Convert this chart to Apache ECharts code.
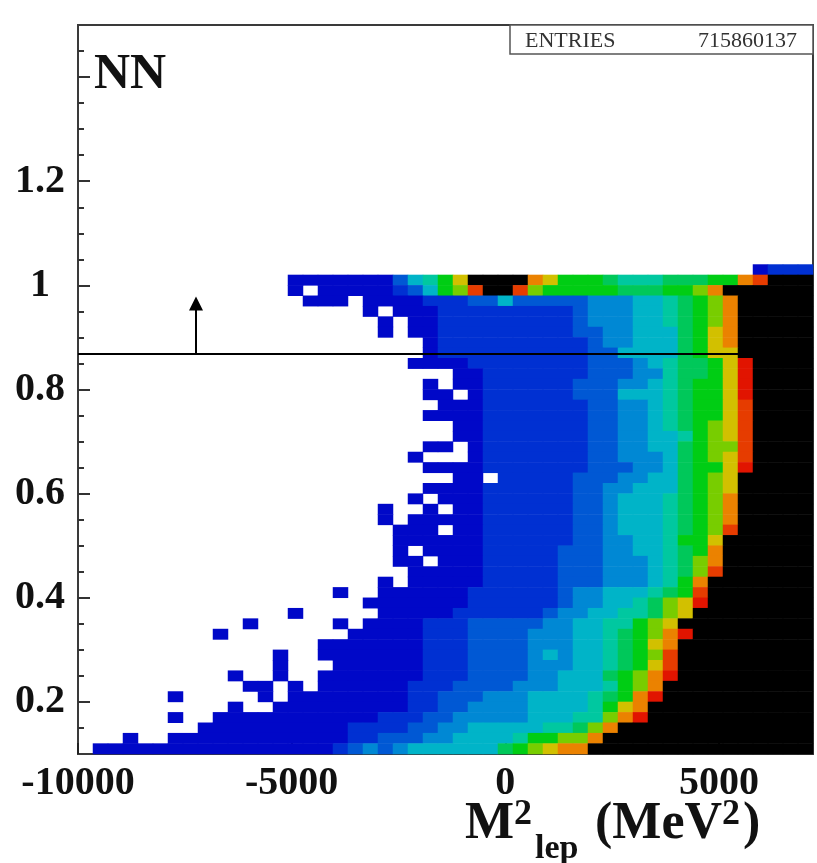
<!DOCTYPE html>
<html>
<head>
<meta charset="utf-8">
<style>html,body{margin:0;padding:0;background:#fff}#c{width:817px;height:863px}</style>
<script src="https://cdn.jsdelivr.net/npm/echarts@6/dist/echarts.min.js"></script>
</head>
<body>
<div id="c"></div>
<script>
// Histogram cells, top row first (NN bin 46 down to 0).
// '.' empty, 0-9,a,b,c colour level, # overflow (black). Groups of 7 bins.
const levelRows = [
"....... ....... ....... ....... ....... ....... ...0111",
"....... ....... 0000000 24579## ##a9777 6555666 77ab###",
"....... ....... 0.00000 12478b# #b87777 7666778 a######",
"....... ....... .000.00 0011122 4222223 3344567 8a#####",
"....... ....... .....0. 0001111 1111123 3344567 8a#####",
"....... ....... ......0 .001111 1111123 3344567 8a#####",
"....... ....... ......0 .001111 1111122 3344467 9a#####",
"....... ....... ....... ..01111 1111112 3344467 9a#####",
"....... ....... ....... ..01111 1111112 2444467 99#####",
"....... ....... ....... .000011 1111112 2234566 79c####",
"....... ....... ....... ....001 1111112 2233566 79c####",
"....... ....... ....... ..0.001 1111122 2334567 79c####",
"....... ....... ....... ..00.01 1111122 2444567 79c####",
"....... ....... ....... ...0001 1111112 2334567 79b####",
"....... ....... ....... ..00001 1111112 2334567 79b####",
"....... ....... ....... ....001 1111112 2334567 89b####",
"....... ....... ....... ....001 1111112 2334457 89b####",
"....... ....... ....... ..00.01 1111112 2334467 88b####",
"....... ....... ....... .0...01 1111112 2333467 89b####",
"....... ....... ....... ..00001 1111112 2233467 79c####",
"....... ....... ....... ....00. 1111122 2334467 89#####",
"....... ....... ....... ..00001 1111122 3344467 89#####",
"....... ....... ....... .0.0001 1111122 3444567 8a#####",
"....... ....... ......0 ..0.001 1111122 3444567 8a#####",
"....... ....... ......0 .000001 1111122 3444567 8a#####",
"....... ....... ....... 000.001 1111122 3444567 8b#####",
"....... ....... ....... 0000001 1111122 3344577 9######",
"....... ....... ....... 0.00001 1111222 3344567 a######",
"....... ....... ....... 00.0001 1111222 3334568 a######",
"....... ....... ....... .000001 1111222 3334568 b######",
"....... ....... ......0 .000001 1111222 333457a #######",
"....... ....... ...0..0 0000011 1111233 444567b #######",
"....... ....... .....00 0000011 1111233 445689c #######",
"....... ....... 0.....0 0000111 1112334 455689# #######",
"....... ....0.. ...0.00 0011122 2223344 55789## #######",
"....... ..0.... ....000 0011122 2233344 5678ac# #######",
"....... ....... ..00000 0011122 2233344 5679a## #######",
"....... ......0 ..00000 0011122 2234344 5678b## #######",
"....... ......0 ...0000 0011122 2233344 5679b## #######",
"....... ...0..0 ..00000 0011122 2233444 678ac## #######",
"....... ....00. 0.00000 0111222 2333444 578a### #######",
"......0 .....0. 0000000 0112223 3344445 67ac### #######",
"....... ...0..0 0000000 0112233 3344445 79a#### #######",
"......0 ..00000 0000001 1122333 3344455 8ac#### #######",
"....... .000000 0000111 1223344 4445568 a###### #######",
"...0..0 0000000 0000112 2233444 457788a ####### #######",
".000000 0000000 0001232 3444444 6789aa# ####### #######"
];
const levelColors = ['#0008c8','#0030d2','#0058d4','#0088d4','#00b4c8','#00c8a0','#00c85a','#00cd14','#78cd00','#d2c000','#eb8200','#e63c00','#e11400','#000000'];
const overflowLevel = 13;
const xBinCount = 49, yBinCount = 70;
const xRange = [-10000, 7200], yRange = [0.1, 1.5];
const xTicks = [-10000, -5000, 0, 5000];
const yMajorTicks = [0.2, 0.4, 0.6, 0.8, 1, 1.2, 1.4];
const yLabels = [0.2, 0.4, 0.6, 0.8, 1, 1.2];
const yMinorTicks = [0.15, 0.25, 0.3, 0.35, 0.45, 0.5, 0.55, 0.65, 0.7, 0.75, 0.85, 0.9, 0.95, 1.05, 1.1, 1.15, 1.25, 1.3, 1.35, 1.45];
const cutLine = [[-10000, 0.868], [5445, 0.868]];
const arrowX = -7239, arrowFrom = 0.868, arrowTip = 0.965;
const entries = '715860137';

const cells = [];
levelRows.forEach((s, i) => {
  const row = levelRows.length - 1 - i;
  s.replace(/ /g, '').split('').forEach((ch, col) => {
    if (ch !== '.') cells.push([col, row, ch === '#' ? overflowLevel : parseInt(ch, 16)]);
  });
});
const xBins = Array.from({length: xBinCount}, (_, i) => String(i));
const yBins = Array.from({length: yBinCount}, (_, i) => String(i));

const serif = '"Liberation Serif","Times New Roman",serif';
const axisStroke = {color: '#3a3a3a', width: 2};
function txt(text, x, y, size, weight, fill, align) {
  return {type: 'text', x: x, y: y, z: 20, silent: true,
    style: {text: text, font: (weight || 'bold') + ' ' + size + 'px ' + serif, fill: fill || '#111', align: align || 'left', verticalAlign: 'bottom'}};
}

const chart = echarts.init(document.getElementById('c'), null, {renderer: 'canvas'});
chart.setOption({
  animation: false,
  backgroundColor: '#fff',
  grid: {left: 78, top: 25, width: 735, height: 729, show: true, borderColor: '#3a3a3a', borderWidth: 2, backgroundColor: 'transparent'},
  xAxis: [
    {type: 'category', data: xBins, show: false},
    {type: 'value', min: xRange[0], max: xRange[1], position: 'bottom', splitLine: {show: false},
      axisLine: {lineStyle: axisStroke},
      axisTick: {show: true, inside: true, length: 11, lineStyle: {color: '#222', width: 2}, customValues: xTicks},
      axisLabel: {customValues: xTicks, formatter: v => String(v), margin: 10, hideOverlap: false, showMinLabel: true, showMaxLabel: true, color: '#111', fontFamily: serif, fontWeight: 'bold', fontSize: 40}}
  ],
  yAxis: [
    {type: 'category', data: yBins, show: false},
    {type: 'value', min: yRange[0], max: yRange[1], position: 'left', splitLine: {show: false},
      axisLine: {lineStyle: axisStroke},
      axisTick: {show: true, inside: true, length: 12, lineStyle: {color: '#333', width: 2}, customValues: yMajorTicks},
      axisLabel: {customValues: yLabels, align: 'center', margin: 38, color: '#111', fontFamily: serif, fontWeight: 'bold', fontSize: 40}},
    {type: 'value', min: yRange[0], max: yRange[1], position: 'left', splitLine: {show: false},
      axisLine: {show: false},
      axisTick: {show: true, inside: true, length: 6, lineStyle: {color: '#333', width: 2}, customValues: yMinorTicks},
      axisLabel: {show: false}}
  ],
  visualMap: {show: false, type: 'continuous', min: 0, max: overflowLevel, dimension: 2, seriesIndex: 0, inRange: {color: levelColors}},
  series: [
    {type: 'heatmap', xAxisIndex: 0, yAxisIndex: 0, data: cells, silent: true, progressive: 0, z: 1, emphasis: {disabled: true}},
    {type: 'line', xAxisIndex: 1, yAxisIndex: 1, data: cutLine, symbol: 'none', silent: true, z: 5, lineStyle: {color: '#000', width: 2}},
    {type: 'line', xAxisIndex: 1, yAxisIndex: 1, silent: true, z: 5, lineStyle: {color: '#000', width: 2},
      data: [{value: [arrowX, arrowFrom], symbol: 'none'}, {value: [arrowX, arrowTip], symbol: 'triangle', symbolSize: [14, 14], itemStyle: {color: '#000'}}]}
  ],
  graphic: [
    {type: 'rect', z: 10, silent: true, shape: {x: 510, y: 25, width: 303, height: 29}, style: {fill: '#fff', stroke: '#555', lineWidth: 1.5}},
    txt('ENTRIES', 525, 52, 22, 'normal', '#333'),
    txt(entries, 797, 52, 22, 'normal', '#333', 'right'),
    txt('NN', 94, 100, 50),
    txt('M', 465, 851, 52),
    txt('2', 514, 833, 36),
    txt('lep', 535, 866, 34),
    txt('(MeV', 595, 851, 52),
    txt('2', 722, 833, 36),
    txt(')', 743, 851, 52)
  ]
});
</script>
</body>
</html>
